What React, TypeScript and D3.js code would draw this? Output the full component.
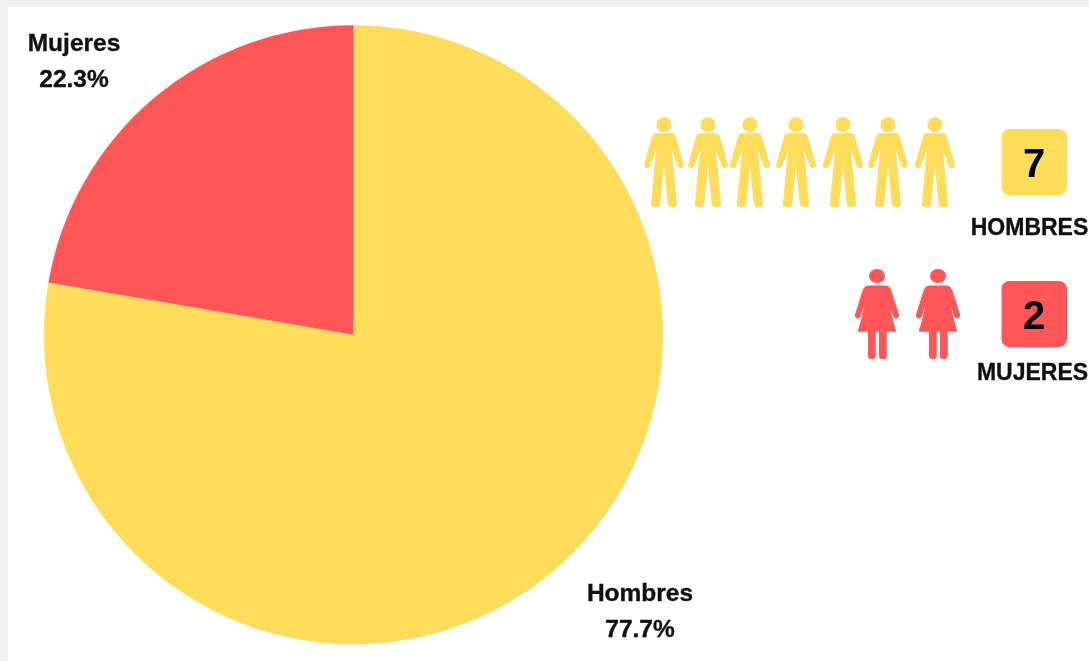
import { useEffect, useRef } from 'react'
import * as d3 from 'd3'

// datos
const categorias = ['Hombres', 'Mujeres']
const porcentajes = [77.7, 22.3]
const etiquetasConteo = ['HOMBRES', 'MUJERES']
const conteos = [7, 2]

const colores = ['#FFDC5A', '#FF5757']

const width = 1089
const height = 661

// the icons are not evenly spaced in the original
const slotsHombres = [664, 708, 750, 796, 843, 888, 935]
const slotsMujeres = [877, 938]

const manBody =
  'M-8,16.6 L8,16.6 Q10.2,16.6 11,19 L19.2,47.5 Q19.6,49.6 17.5,50 Q15.5,50.2 14.5,48.5 L7.4,29 L7.6,37 L12.4,87 Q12.4,88.9 10.5,88.9 L7,88.9 Q5,88.9 4.6,87.5 L0,42 L-4.6,87.5 Q-5,88.9 -7,88.9 L-10.5,88.9 Q-12.4,88.9 -12.4,87 L-7.6,37 L-7.4,29 L-14.5,48.5 Q-15.5,50.2 -17.5,50 Q-19.6,49.6 -19.2,47.5 L-11,19 Q-10.2,16.6 -8,16.6 Z'

const womanBody =
  'M-9,17 L9,17 Q12,17 13.5,20.5 L21.6,46 Q22,48 20,49 Q18,49.6 17,48 L11.2,30 L14.6,48 L18.6,62.2 L9.2,62.2 L9.2,87.5 Q9.2,89.5 7,89.5 L4.5,89.5 Q2.5,89.5 2.5,87.5 L2.5,62.2 L-1.8,62.2 L-1.8,87.5 Q-1.8,89.5 -4,89.5 L-6.5,89.5 Q-8.5,89.5 -8.5,87.5 L-8.5,62.2 L-18.6,62.2 L-14.6,48 L-11.2,30 L-17,48 Q-18,49.6 -20,49 Q-22,48 -21.6,46 L-13.5,20.5 Q-12,17 -9,17 Z'

export default function App() {
  const svgRef = useRef<SVGSVGElement>(null)

  useEffect(() => {
    if (!svgRef.current) return

    const svg = d3.select(svgRef.current)
    svg.selectAll('*').remove()

    const font = '"Liberation Sans", Arial, sans-serif'

    svg.append('rect')
      .attr('width', width)
      .attr('height', height)
      .attr('fill', '#f2f2f2')

    svg.append('rect')
      .attr('x', 8)
      .attr('y', 7)
      .attr('width', width - 8)
      .attr('height', height - 7)
      .attr('fill', '#ffffff')

    const color = d3.scaleOrdinal<string, string>().domain(categorias).range(colores)

    // Pie
    const pie = d3.pie<number>().sort(null)
    const arc = d3.arc<d3.PieArcDatum<number>>().innerRadius(0).outerRadius(309.5)

    svg.append('g')
      .attr('transform', 'translate(353.5,334.7)')
      .selectAll('path')
      .data(pie(porcentajes))
      .join('path')
      .attr('d', arc)
      .attr('fill', (d, i) => color(categorias[i]))

    // Pie labels
    const labelPos = [
      { x: 640, y: 601 },
      { x: 74, y: 51 }
    ]
    const labels = svg.append('g')
      .attr('font-family', font)
      .attr('font-weight', 700)
      .attr('font-size', 24.5)
      .attr('text-anchor', 'middle')
      .attr('fill', '#111')
      .attr('stroke', '#111')
      .attr('stroke-width', 0.35)

    categorias.forEach((c, i) => {
      labels.append('text').attr('x', labelPos[i].x).attr('y', labelPos[i].y).text(c)
      labels.append('text').attr('x', labelPos[i].x).attr('y', labelPos[i].y + 36).text(`${porcentajes[i]}%`)
    })

    // Pictograms
    const drawMan = (x: number, fill: string) => {
      const g = svg.append('g').attr('transform', `translate(${x},117.3)`).attr('fill', fill)
      g.append('circle').attr('cy', 7.5).attr('r', 7.5)
      g.append('path')
        .attr('d', manBody)
        .attr('stroke', fill)
        .attr('stroke-width', 1.4)
        .attr('stroke-linejoin', 'round')
    }
    const drawWoman = (x: number, fill: string) => {
      const g = svg.append('g').attr('transform', `translate(${x},269)`).attr('fill', fill)
      g.append('ellipse').attr('cy', 7).attr('rx', 8).attr('ry', 7)
      g.append('path')
        .attr('d', womanBody)
        .attr('stroke', fill)
        .attr('stroke-width', 1)
        .attr('stroke-linejoin', 'round')
    }

    d3.range(conteos[0]).forEach(i => drawMan(slotsHombres[i], colores[0]))
    d3.range(conteos[1]).forEach(i => drawWoman(slotsMujeres[i], colores[1]))

    // Count badges
    const badgeY = [129, 281]
    const labelY = [235, 380]
    const labelX = [1029.5, 1032.5]
    conteos.forEach((n, i) => {
      svg.append('rect')
        .attr('x', 1001.5)
        .attr('y', badgeY[i])
        .attr('width', 65.5)
        .attr('height', 66)
        .attr('rx', 8)
        .attr('fill', colores[i])

      svg.append('text')
        .attr('x', 1034)
        .attr('y', badgeY[i] + 48)
        .attr('text-anchor', 'middle')
        .attr('font-family', font)
        .attr('font-weight', 700)
        .attr('font-size', 40)
        .attr('fill', '#000')
        .text(n)

      svg.append('text')
        .attr('x', labelX[i])
        .attr('y', labelY[i])
        .attr('text-anchor', 'middle')
        .attr('font-family', font)
        .attr('font-weight', 700)
        .attr('font-size', 23)
        .attr('fill', '#111')
        .attr('stroke', '#111')
        .attr('stroke-width', 0.35)
        .text(etiquetasConteo[i])
    })
  }, [])

  return (
    <svg
      ref={svgRef}
      width={width}
      height={height}
      style={{ position: 'fixed', left: 0, top: 0, display: 'block', filter: 'blur(0.4px)' }}
    />
  )
}
